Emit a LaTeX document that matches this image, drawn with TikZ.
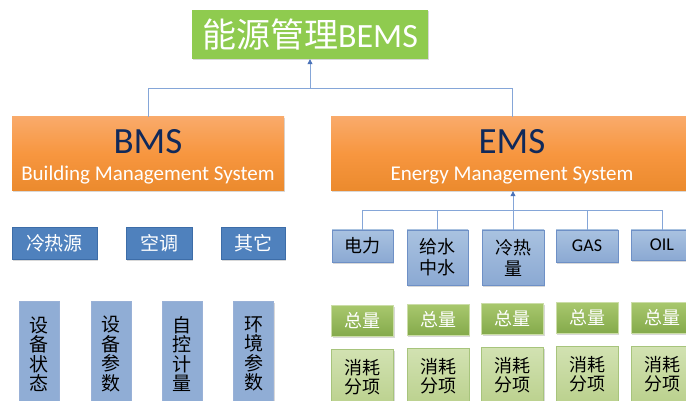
\documentclass[tikz,border=0pt]{standalone}
\usepackage{fontspec}
\setmainfont{Carlito}
\newfontfamily\cjk{Noto Sans CJK SC}
\usetikzlibrary{shadows,arrows.meta}
\definecolor{topgreen}{HTML}{8FCB4F}
\definecolor{orT}{HTML}{F9AA6A}
\definecolor{orM}{HTML}{F7963F}
\definecolor{orB}{HTML}{EB8A2D}
\definecolor{navy}{HTML}{10295A}
\definecolor{blueA}{HTML}{4F81BD}
\definecolor{blueB}{HTML}{3D6DA8}
\definecolor{lbT}{HTML}{A9C2E0}
\definecolor{lbB}{HTML}{8BA9D3}
\definecolor{lbD}{HTML}{6E90C6}
\definecolor{gT}{HTML}{A8C76D}
\definecolor{gB}{HTML}{84AA4B}
\definecolor{pgT}{HTML}{D2E2B2}
\definecolor{pgB}{HTML}{BBD18E}
\definecolor{pgD}{HTML}{A7C47C}
\definecolor{conn}{HTML}{85A6D8}
\definecolor{arr}{HTML}{4A72B8}
\tikzset{
  sh/.style={drop shadow={shadow xshift=1.2pt,shadow yshift=-1.5pt,opacity=0.3}},
  topbox/.style={sh,fill=topgreen,text=white,inner sep=0pt,
    font=\fontsize{34}{38}\selectfont},
  orbox/.style={sh,top color=orT,bottom color=orB,middle color=orM,inner sep=0pt,align=center},
  bluebox/.style={sh,fill=blueA,draw=blueB,line width=0.6pt,text=white,inner sep=0pt,
    font=\cjk\fontsize{19}{21}\selectfont},
  lbbox/.style={sh,top color=lbT,bottom color=lbB,draw=lbD,line width=0.6pt,text=black,inner sep=0pt,align=center,
    font=\cjk\fontsize{18}{21}\selectfont},
  tallbox/.style={sh,fill=lbB!85!lbT,draw=lbD!70,line width=0.5pt,text=black,inner sep=0pt,align=center,
    minimum width=40pt,minimum height=106pt,font=\cjk\fontsize{19}{19.5}\selectfont},
  gbox/.style={sh,top color=gT,bottom color=gB,draw=gT!60!white,line width=0.5pt,text=white,inner sep=0pt,
    minimum width=62pt,minimum height=31pt,font=\cjk\fontsize{18}{20}\selectfont},
  pgbox/.style={sh,top color=pgT,bottom color=pgB,draw=pgD,line width=0.6pt,text=black,inner sep=0pt,align=center,
    minimum width=62pt,minimum height=56pt,font=\cjk\fontsize{18}{19}\selectfont},
  cl/.style={draw=conn,line width=0.8pt},
  ca/.style={draw=conn,line width=0.8pt,-{Triangle[length=5pt,width=5pt,fill=arr,color=arr]}},
}
\begin{document}
\begin{tikzpicture}[x=1pt,y=-1pt]
\clip (0,0) rectangle (686,401);
\fill[white] (0,0) rectangle (686,401);
% top
\node[topbox,minimum width=236pt,minimum height=49pt] (top) at (310,34.5) {{\cjk 能源管理}BEMS};
% BMS / EMS
\node[orbox,minimum width=272pt,minimum height=74pt] (bms) at (148,154) {};
\node[text=navy,font=\fontsize{37}{40}\selectfont] (bmst) at (148,142) {BMS};
\node[text=white,font=\fontsize{21}{24}\selectfont] (bmss) at (148,175) {Building Management System};
\node[orbox,minimum width=362pt,minimum height=74pt] (ems) at (512,154) {};
\node[text=navy,font=\fontsize{37}{40}\selectfont] (emst) at (512,142) {EMS};
\node[text=white,font=\fontsize{21}{24}\selectfont] (emss) at (512,175) {Energy Management System};
% top connectors
\coordinate (j1) at (310,88);
\draw[cl] (bms.north) -- (bms.north |- j1) -- (ems.north |- j1) -- (ems.north);
\draw[ca] (j1) -- (top.south);
% BMS children
\node[bluebox,minimum width=85pt,minimum height=32pt] (b1) at (54.5,243) {冷热源};
\node[bluebox,minimum width=66pt,minimum height=32pt] (b2) at (159,243) {空调};
\node[bluebox,minimum width=64pt,minimum height=32pt] (b3) at (253,243) {其它};
\node[tallbox] (t1) at (39,354) {设\\备\\状\\态};
\node[tallbox] (t2) at (111,354) {设\\备\\参\\数};
\node[tallbox] (t3) at (182,354) {自\\控\\计\\量};
\node[tallbox] (t4) at (253.5,354) {环\\境\\参\\数};
% EMS children
\node[lbbox,minimum width=61pt,minimum height=32pt] (e1) at (362.5,246) {电力};
\node[lbbox,minimum width=61pt,minimum height=55pt] (e2) at (437.5,257.5) {给水\\中水};
\node[lbbox,minimum width=62pt,minimum height=55pt] (e3) at (513,257.5) {冷热\\量};
\node[lbbox,minimum width=62pt,minimum height=32pt,font=\fontsize{18}{20}\selectfont] (e4) at (587,246) {GAS};
\node[lbbox,minimum width=62pt,minimum height=30pt,font=\fontsize{18}{20}\selectfont] (e5) at (662,245) {OIL};
\coordinate (j2) at (512,210);
\draw[cl] (e1.north) -- (e1.north |- j2) -- (e5.north |- j2) -- (e5.north);
\draw[cl] (e2.north) -- (e2.north |- j2);
\draw[cl] (e4.north) -- (e4.north |- j2);
\draw[ca] (e3.north) -- (ems.south -| e3.north);
% totals
\node[gbox] (g1) at (362.5,321) {总量};
\node[gbox] (g2) at (438,320) {总量};
\node[gbox] (g3) at (512.5,319) {总量};
\node[gbox] (g4) at (587,318) {总量};
\node[gbox] (g5) at (662,318) {总量};
\node[pgbox] (p1) at (362.5,377) {消耗\\分项};
\node[pgbox] (p2) at (438,376) {消耗\\分项};
\node[pgbox] (p3) at (512.5,375) {消耗\\分项};
\node[pgbox] (p4) at (587,374) {消耗\\分项};
\node[pgbox] (p5) at (662,374) {消耗\\分项};
\end{tikzpicture}
\end{document}
